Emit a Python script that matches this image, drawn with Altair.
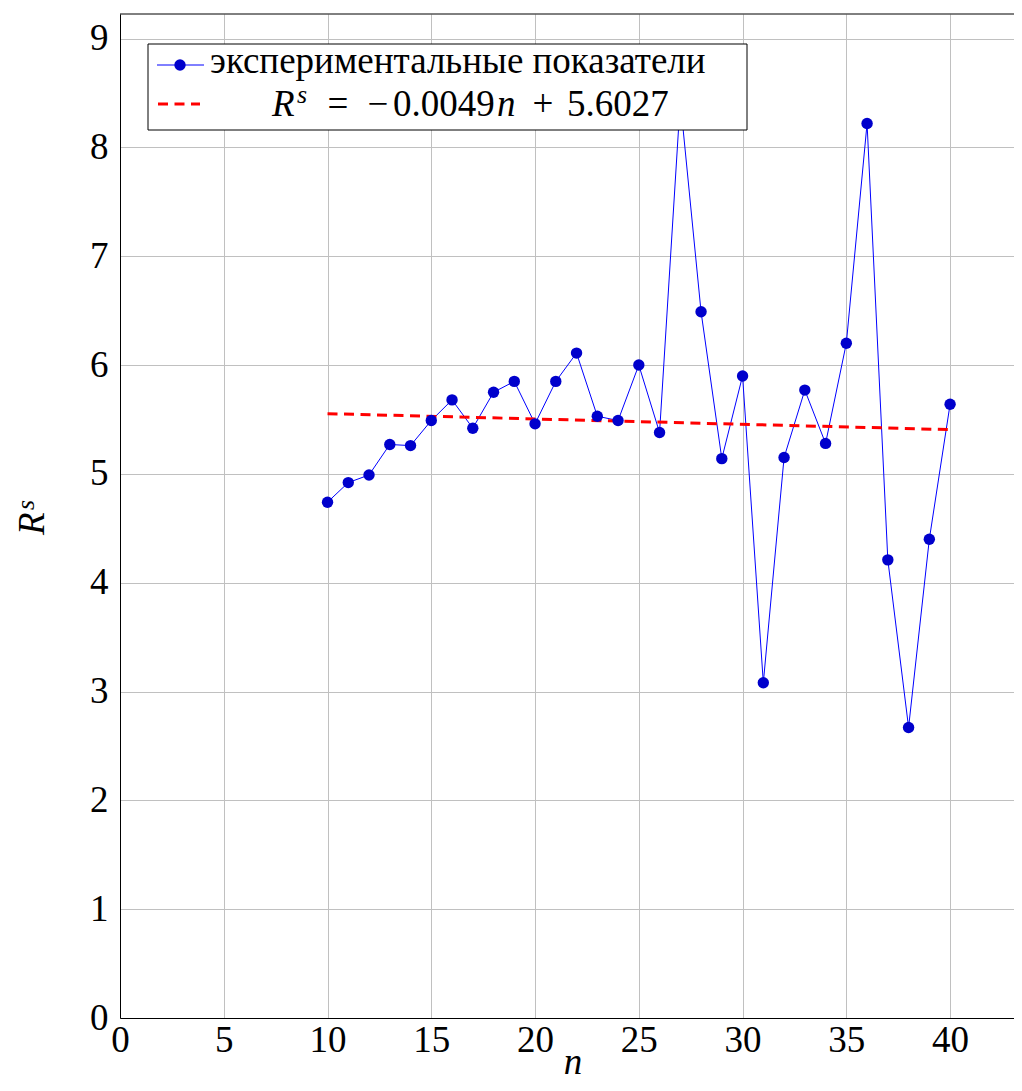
import altair as alt
import pandas as pd

# ---- data ----
n_values = list(range(10, 41))
rs_values = [4.74, 4.92, 4.99, 5.27, 5.26, 5.49, 5.68, 5.42, 5.75, 5.85,
             5.46, 5.85, 6.11, 5.53, 5.49, 6.00, 5.38, 8.43, 6.49, 5.14,
             5.90, 3.08, 5.15, 5.77, 5.28, 6.20, 8.22, 4.21, 2.67, 4.40,
             5.64]
trend_n = [10, 40]
trend_rs = [5.5537, 5.4067]
x_ticks = [0, 5, 10, 15, 20, 25, 30, 35, 40]
y_ticks = [0, 1, 2, 3, 4, 5, 6, 7, 8, 9]

legend_label_1 = "экспериментальные показатели"

FONT = "Liberation Serif"
FS = 37
W, H = 894, 1004

data_df = pd.DataFrame({"n": n_values, "rs": rs_values})
trend_df = pd.DataFrame({"n": trend_n, "rs": trend_rs})
one = pd.DataFrame({"k": [0]})

xscale = alt.Scale(domain=[0, 43.08], nice=False, zero=False)
yscale = alt.Scale(domain=[0, 9.226], nice=False, zero=False)

xaxis = alt.Axis(values=x_ticks, title="", labelPadding=4, labelFlush=False)
yaxis = alt.Axis(values=y_ticks, title="", format="d", labelPadding=12, labelFlush=False)

line = alt.Chart(data_df).mark_line(color="#0000ff", strokeWidth=1).encode(
    x=alt.X("n:Q", scale=xscale, axis=xaxis),
    y=alt.Y("rs:Q", scale=yscale, axis=yaxis),
)
points = alt.Chart(data_df).mark_point(filled=True, color="#0000cc", size=130, opacity=1).encode(
    x=alt.X("n:Q", scale=xscale),
    y=alt.Y("rs:Q", scale=yscale),
)
trend = alt.Chart(trend_df).mark_line(color="#ff0000", strokeWidth=3, strokeDash=[10, 6.5]).encode(
    x=alt.X("n:Q", scale=xscale),
    y=alt.Y("rs:Q", scale=yscale),
)

# top frame line of the plot area
top_frame = alt.Chart(one).mark_rule(color="black", strokeWidth=1).encode(
    x=alt.value(0), x2=alt.value(W), y=alt.value(0)
)

# ---- legend box (pixel space, on top of data) ----
box = alt.Chart(one).mark_rect(fill="white", stroke="black", strokeWidth=1).encode(
    x=alt.value(28), x2=alt.value(627), y=alt.value(30), y2=alt.value(116)
)
leg_line = alt.Chart(one).mark_rule(color="#0000ff", strokeWidth=1).encode(
    x=alt.value(37), x2=alt.value(84), y=alt.value(51)
)
leg_dot = alt.Chart(one).mark_point(filled=True, color="#0000cc", size=130, opacity=1).encode(
    x=alt.value(60), y=alt.value(51)
)
leg_dash = alt.Chart(one).mark_rule(color="#ff0000", strokeWidth=3, strokeDash=[10, 6.5]).encode(
    x=alt.value(38), x2=alt.value(80), y=alt.value(90)
)


def txt(s, x, y, size=FS, style="normal", align="left", angle=0):
    return alt.Chart(one).mark_text(text=s, font=FONT, fontSize=size, fontStyle=style,
                                    align=align, baseline="alphabetic", angle=angle,
                                    color="black").encode(
        x=alt.value(x), y=alt.value(y))


texts = [
    txt(legend_label_1, 90, 59),
    txt("R", 152, 102, style="italic"),
    txt("s", 177, 89, size=26, style="italic"),
    txt("=", 218, 102, align="center"),
    txt("−", 258, 102, align="center"),
    txt("0.0049", 273, 102),
    txt("n", 377, 102, style="italic"),
    txt("+", 423, 102, align="center"),
    txt("5.6027", 447, 102),
    # axis titles
    txt("n", 453, 1060, style="italic", align="center"),
    txt("R", -76, 521, style="italic", angle=270),
    txt("s", -86, 496, size=26, style="italic", angle=270),
]

chart = alt.layer(line, trend, points, top_frame, box, leg_line, leg_dot, leg_dash, *texts).properties(
    width=W, height=H,
    padding={"left": 112, "top": 6, "right": 0, "bottom": 65},
    autosize=alt.AutoSizeParams(type="none"),
).configure_view(strokeWidth=0).configure_axis(
    grid=True, gridColor="#c0c0c0", gridWidth=1, domainColor="black", domainWidth=1,
    tickSize=0, labelFont=FONT, labelFontSize=FS, labelColor="black",
)

chart.save("out.html", embed_options={"renderer": "svg", "actions": False})
